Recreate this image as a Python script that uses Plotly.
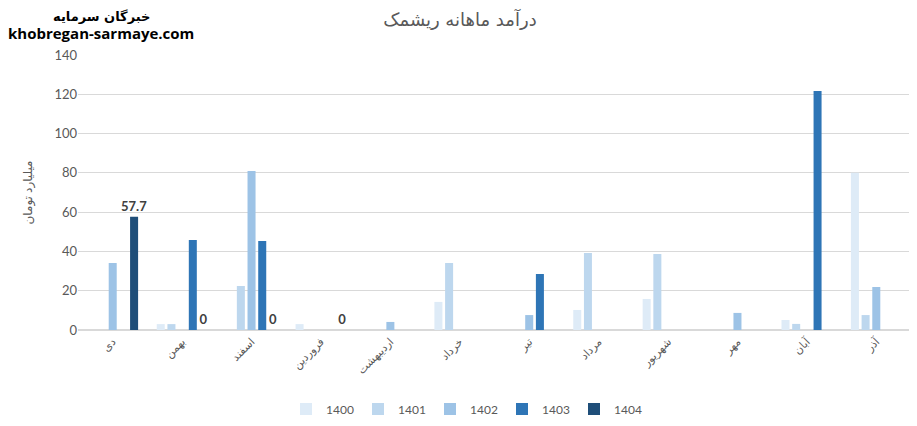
import plotly.graph_objects as go

# months (categories) in the order shown left to right
months = ["دی", "بهمن", "اسفند", "فروردین", "اردیبهشت", "خرداد",
          "تیر", "مرداد", "شهریور", "مهر", "آبان", "آذر"]

years = ["1400", "1401", "1402", "1403", "1404"]

# revenue, billion toman (None = no bar)
rev_1400 = [None, 3, None, 3, None, 14.3, None, 10.2, 15.8, None, 5.1, 80]
rev_1401 = [None, 3, 22.4, None, None, 34.1, None, 39.2, 38.7, None, 3.1, 7.6]
rev_1402 = [34.1, None, 81, None, 4.1, None, 7.6, None, None, 8.7, None, 21.9]
rev_1403 = [None, 45.8, 45.3, None, None, None, 28.5, None, None, None, 121.7, None]
rev_1404 = [57.7, 0, 0, 0, None, None, None, None, None, None, None, None]
labels_1404 = ["57.7", "0", "0", "0", "", "", "", "", "", "", "", ""]

colors = ["#DEEBF7", "#BDD7EE", "#9DC3E6", "#2E75B6", "#1F4E79"]
series = [rev_1400, rev_1401, rev_1402, rev_1403, rev_1404]

fig = go.Figure()
for name, vals, col in zip(years, series, colors):
    kw = {}
    if name == "1404":
        kw = dict(text=labels_1404, textposition="outside", cliponaxis=False,
                  constraintext="none",
                  textfont=dict(size=13, color="#404040", family="Lato, DejaVu Sans"),
                  texttemplate="<b>%{text}</b>")
    fig.add_trace(go.Bar(x=months, y=vals, name=name, marker_color=col,
                         marker_line_width=0, **kw))

font_fa = "Lato, DejaVu Sans, sans-serif"

# the page body adds an 8px offset, so the figure is 8px smaller here
W, H = 909, 418
L, T, B = 70, 47, 96

fig.update_layout(
    width=W, height=H,
    margin=dict(l=L, r=6, t=T, b=B, autoexpand=False),
    paper_bgcolor="white", plot_bgcolor="white",
    barmode="group", bargap=0.23, bargroupgap=0.25,
    font=dict(family=font_fa, color="#595959"),
    title=dict(text="درآمد ماهانه ریشمک", x=452 / W, xanchor="center",
               y=1 - 12 / H, yanchor="middle",
               font=dict(size=18, color="#595959", family="DejaVu Sans")),
    xaxis=dict(tickangle=-45, tickfont=dict(size=11, color="#595959"),
               showgrid=False, showline=True, linecolor="#D9D9D9", ticks=""),
    yaxis=dict(range=[0, 140], dtick=20, gridcolor="#D9D9D9", zeroline=True,
               zerolinecolor="#D9D9D9", tickfont=dict(size=13, color="#595959"),
               title=dict(text="میلیارد تومان", font=dict(size=12, color="#595959"),
                          standoff=19)),
    legend=dict(orientation="h", xref="container", yref="container",
                x=458 / W, xanchor="center", y=1 - 401 / H, yanchor="middle",
                itemwidth=30, entrywidth=27, font=dict(size=12, color="#595959"),
                traceorder="normal"),
    showlegend=True,
)

fig.add_annotation(text="<b>خبرگان سرمایه</b>", xref="paper", yref="paper",
                   x=(93 - L) / 833, y=(322 + 1) / 275, showarrow=False,
                   xanchor="center", yanchor="top",
                   font=dict(size=13, color="black", family="DejaVu Sans"))
fig.add_annotation(text="<b>khobregan-sarmaye.com</b>", xref="paper", yref="paper",
                   x=(93 - L) / 833, y=(322 - 25) / 275, showarrow=False,
                   xanchor="center", yanchor="middle",
                   font=dict(size=15, color="black", family="Open Sans"))

fig.write_html("out.html")
